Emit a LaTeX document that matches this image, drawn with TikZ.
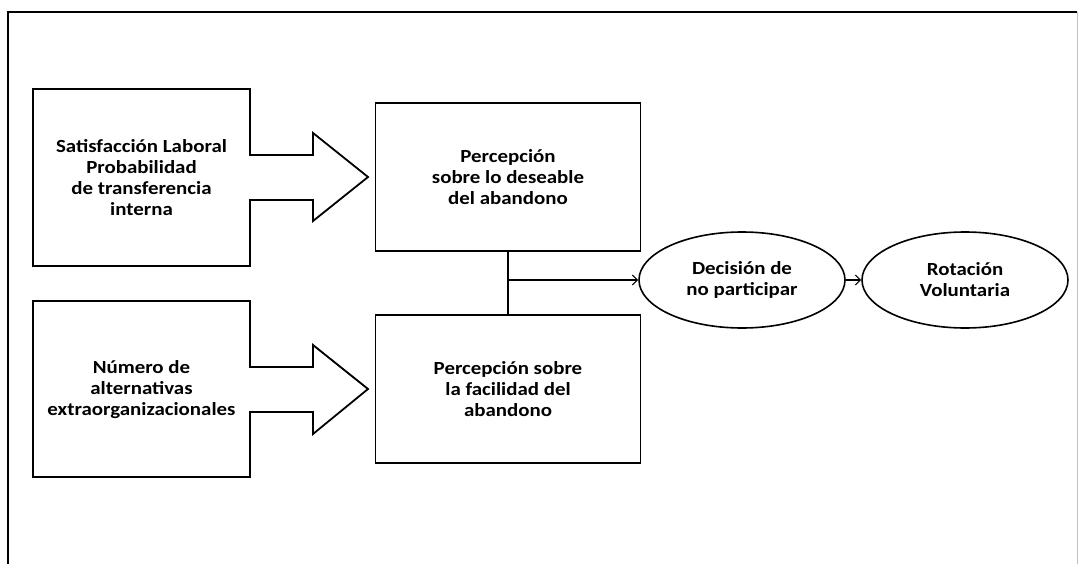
\documentclass[tikz,border=0pt]{standalone}
\usepackage{fontspec}
\setmainfont[FakeStretch=1.13]{Carlito}
\usetikzlibrary{arrows.meta,shapes.geometric}
\begin{document}
\begin{tikzpicture}[x=1pt,y=-1pt,
  txt/.style={font=\bfseries\fontsize{18.5}{21}\selectfont,align=center,inner sep=0pt},
  outl/.style={draw=black,line width=1.8pt,line join=miter},
  oval/.style={ellipse,draw=black,line width=1.6pt,minimum width=206pt,minimum height=96pt,inner sep=0pt},
  conn/.style={line width=1.2pt,-{Straight Barb[length=5pt,width=10pt,line width=1.2pt]}}]
\useasboundingbox (0,0) rectangle (1078,564);
% outer frame
\draw[line width=1.8pt] (8,564) -- (8,12) -- (1077,12);
\draw[gray!50,line width=0.8pt] (1077,12) -- (1077,564);
% upper left box with block arrow
\draw[outl] (250,155) -- (313,155) -- (313,133) -- (368,177) -- (313,221) -- (313,200) -- (250,200) -- (250,266) -- (33,266) -- (33,89) -- (250,89) -- cycle;
\node[txt] (sat) at (141.5,178) {Satisfacción Laboral\\Probabilidad\\de transferencia\\interna};
% lower left box with block arrow
\draw[outl] (250,367) -- (313,367) -- (313,345) -- (368,389) -- (313,434) -- (313,412) -- (250,412) -- (250,477) -- (33,477) -- (33,301) -- (250,301) -- cycle;
\node[txt] (num) at (141.5,390) {Número de\\alternativas\\extraorganizacionales};
% perception boxes
\node[outl,minimum width=265pt,minimum height=148pt,inner sep=0pt] (des) at (508,177) {};
\node[txt] at (des.center) {Percepción\\sobre lo deseable\\del abandono};
\node[outl,minimum width=265pt,minimum height=148pt,inner sep=0pt] (fac) at (508,389) {};
\node[txt] at (fac.center) {Percepción sobre\\la facilidad del\\abandono};
% ellipses
\node[oval] (dec) at (742,280) {};
\node[txt] at (dec.center) {Decisión de\\no participar};
\node[oval] (rot) at (965,280) {};
\node[txt] at (rot.center) {Rotación\\Voluntaria};
% connectors
\draw[line width=1.2pt] (des.south) -- (fac.north);
\coordinate (j) at (508,280);
\draw[conn] (j) -- (dec.west);
\draw[conn] (dec.east) -- (rot.west);
\end{tikzpicture}
\end{document}
